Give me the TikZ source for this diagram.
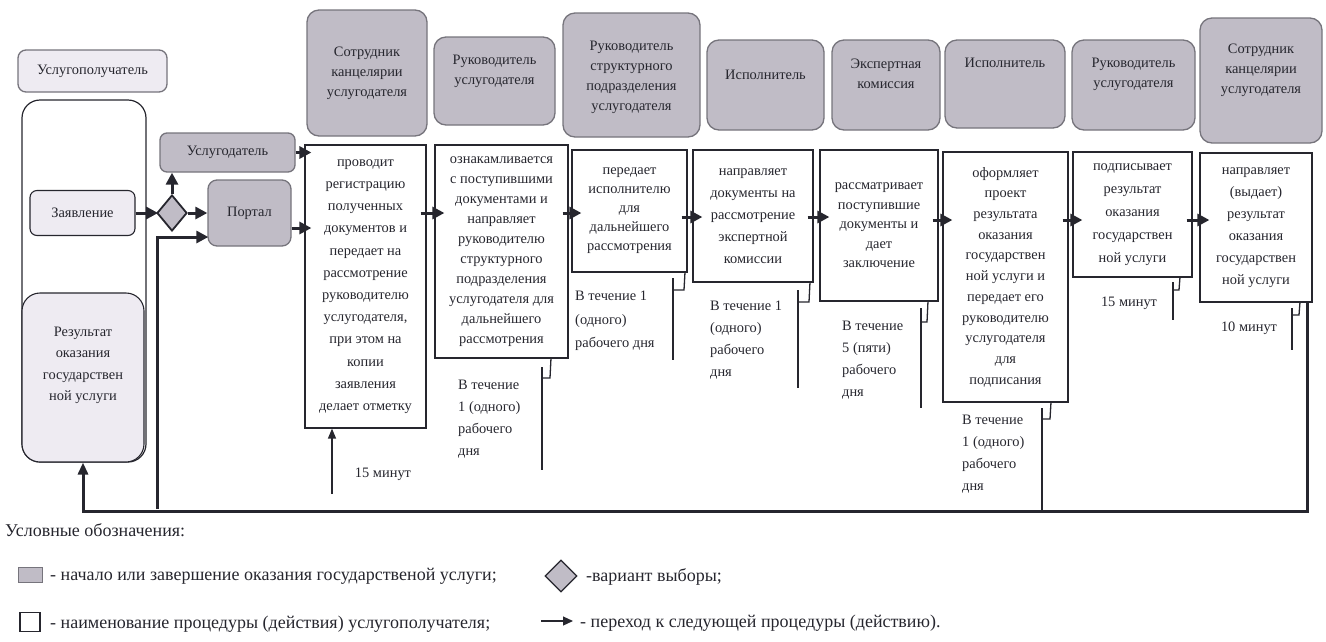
\documentclass[tikz,border=0pt]{standalone}
\usepackage{fontspec}
\setmainfont{Liberation Serif}
\usetikzlibrary{shapes.geometric,arrows.meta,calc}
\definecolor{hdrfill}{RGB}{192,188,198}
\definecolor{hdrdraw}{RGB}{118,116,124}
\definecolor{lightfill}{RGB}{238,235,242}
\definecolor{ink}{RGB}{38,38,46}
\begin{document}
\begin{tikzpicture}[x=1pt,y=-1pt,
  hdr/.style={draw=hdrdraw,line width=1.3pt,fill=hdrfill,rounded corners=12pt,inner sep=0pt},
  htxt/.style={font=\fontsize{14.4}{20}\selectfont,align=center,text=ink,inner sep=0pt},
  lightbox/.style={draw=ink,line width=1.1pt,fill=lightfill,rounded corners=7pt,inner sep=0pt,font=\fontsize{14.4}{21}\selectfont,align=center,text=ink},
  graybox/.style={draw=hdrdraw,line width=1.3pt,fill=hdrfill,rounded corners=7pt,inner sep=0pt,font=\fontsize{14.4}{21}\selectfont,align=center,text=ink},
  proc/.style={draw=ink,line width=1.2pt,fill=white,inner sep=0pt,align=center,text=ink},
  timetxt/.style={font=\fontsize{14.4}{22}\selectfont,align=left,text=ink,inner sep=0pt,anchor=north west},
  arr/.style={draw=ink,line width=3pt,-{Triangle[length=12pt,width=12pt]}},
  tarr/.style={draw=ink,line width=1.4pt,-{Triangle[length=10pt,width=8pt]}},
  cl/.style={draw=ink,line width=1.3pt},
  ret/.style={draw=ink,line width=3pt},
  leg/.style={font=\fontsize{18}{20}\selectfont,anchor=west,inner sep=0pt,text=ink}
]
\useasboundingbox (0,0) rectangle (1326,641);

% ---------- headers ----------
\node[hdr,fill=lightfill,rounded corners=8pt,minimum width=149pt,minimum height=42pt,
  label={[htxt]center:{Услугополучатель}}] (h0) at (92.5,71) {};
\node[hdr,minimum width=120pt,minimum height=126pt,
  label={[htxt]center:{Сотрудник\\канцелярии\\услугодателя}}] (h1) at (367,73) {};
\node[hdr,minimum width=121pt,minimum height=88pt,
  label={[htxt,yshift=10pt]center:{Руководитель\\услугодателя}}] (h2) at (494.5,81) {};
\node[hdr,minimum width=137pt,minimum height=124pt,
  label={[htxt,yshift=-2pt]center:{Руководитель\\структурного\\подразделения\\услугодателя}}] (h3) at (631.5,75) {};
\node[hdr,minimum width=117pt,minimum height=90pt,
  label={[htxt,yshift=10pt]center:{Исполнитель}}] (h4) at (765.5,85) {};
\node[hdr,minimum width=108pt,minimum height=90pt,
  label={[htxt,yshift=11pt]center:{Экспертная\\комиссия}}] (h5) at (886,85) {};
\node[hdr,minimum width=120pt,minimum height=88pt,
  label={[htxt,yshift=21pt]center:{Исполнитель}}] (h6) at (1005,84) {};
\node[hdr,minimum width=123pt,minimum height=90pt,
  label={[htxt,yshift=11pt]center:{Руководитель\\услугодателя}}] (h7) at (1133.5,85) {};
\node[hdr,minimum width=122pt,minimum height=125pt,
  label={[htxt,yshift=10pt]center:{Сотрудник\\канцелярии\\услугодателя}}] (h8) at (1261,80.5) {};

% ---------- left column ----------
\node[draw=ink,line width=1.2pt,rounded corners=18pt,minimum width=124pt,minimum height=362pt,inner sep=0pt] (L) at (84,281) {};
\node[lightbox,minimum width=105pt,minimum height=45pt] (Z) at (82.5,213) {Заявление};
\node[lightbox,rounded corners=18pt,minimum width=122pt,minimum height=169pt,
  label={[htxt,font=\fontsize{14.4}{21.5}\selectfont,yshift=12pt]center:{Результат\\оказания\\государствен\\ной услуги}}] (R) at (83,377.5) {};

\node[shape=diamond,draw=ink,line width=1.8pt,fill=hdrfill,minimum width=30pt,minimum height=36pt,inner sep=0pt] (D) at (172,213) {};
\node[graybox,minimum width=135pt,minimum height=39pt] (U) at (227.5,152.5) {Услугодатель};
\node[graybox,rounded corners=9pt,minimum width=83pt,minimum height=66pt] (P) at (249.5,213) {Портал};

% ---------- process boxes ----------
\node[proc,font=\fontsize{14.4}{22.2}\selectfont,minimum width=121pt,minimum height=283pt] (p1) at (365.5,286.5)
  {проводит\\регистрацию\\полученных\\документов и\\передает на\\рассмотрение\\руководителю\\услугодателя,\\при этом на\\копии\\заявления\\делает отметку};
\node[proc,font=\fontsize{14.4}{20}\selectfont,minimum width=133pt,minimum height=213pt] (p2) at (501.5,251.5)
  {ознакамливается\\с поступившими\\документами и\\направляет\\руководителю\\структурного\\подразделения\\услугодателя для\\дальнейшего\\рассмотрения};
\node[proc,font=\fontsize{14.4}{19}\selectfont,minimum width=115pt,minimum height=122pt] (p3) at (629.5,211)
  {передает\\исполнителю\\для\\дальнейшего\\рассмотрения};
\node[proc,font=\fontsize{14.4}{22}\selectfont,minimum width=120pt,minimum height=132pt] (p4) at (753,216)
  {направляет\\документы на\\рассмотрение\\экспертной\\комиссии};
\node[proc,font=\fontsize{14.4}{19.5}\selectfont,minimum width=118pt,minimum height=151pt] (p5) at (879,225.5)
  {рассматривает\\поступившие\\документы и\\дает\\заключение};
\node[proc,font=\fontsize{14.4}{20.7}\selectfont,minimum width=125pt,minimum height=250pt] (p6) at (1005.5,277)
  {оформляет\\проект\\результата\\оказания\\государствен\\ной услуги и\\передает его\\руководителю\\услугодателя\\для\\подписания};
\node[proc,font=\fontsize{14.4}{23}\selectfont,minimum width=119pt,minimum height=125pt] (p7) at (1132.5,214.5)
  {подписывает\\результат\\оказания\\государствен\\ной услуги};
\node[proc,font=\fontsize{14.4}{22}\selectfont,minimum width=112pt,minimum height=149pt] (p8) at (1256,227.5)
  {направляет\\(выдает)\\результат\\оказания\\государствен\\ной услуги};

% ---------- helper coordinates ----------
\coordinate (ya) at (0,213);
\coordinate (yb) at (0,217);
\coordinate (yc) at (0,220);
\coordinate (yp) at (0,228);
\coordinate (yq) at (0,237);
\coordinate (bot) at (1307,511);
\coordinate (lin) at (157,509);

% ---------- connectors ----------
\draw[arr,shorten >=-2pt] (Z.east) -- (D.west);
\draw[arr] (D.north) -- (D.north |- U.south);
\draw[arr] (D.east) -- (P.west |- D.east);
\draw[arr,shorten >=-1pt] (lin) |- (P.west |- yq);
\draw[arr,shorten >=-7pt] (U.east) -- (p1.west |- U.east);
\draw[arr,shorten >=-7pt] (P.east |- yp) -- (p1.west |- yp);

\draw[arr,shorten <=-6pt,shorten >=-10pt] (p1.east |- ya) -- (p2.west |- ya);
\draw[arr,shorten <=-6pt,shorten >=-10pt] (p2.east |- ya) -- (p3.west |- ya);
\draw[arr,shorten <=-6pt,shorten >=-10pt] (p3.east |- yb) -- (p4.west |- yb);
\draw[arr,shorten <=-6pt,shorten >=-10pt] (p4.east |- yb) -- (p5.west |- yb);
\draw[arr,shorten <=-6pt,shorten >=-10pt] (p5.east |- yc) -- (p6.west |- yc);
\draw[arr,shorten <=-6pt,shorten >=-10pt] (p6.east |- yc) -- (p7.west |- yc);
\draw[arr,shorten <=-6pt,shorten >=-10pt] (p7.east |- yc) -- (p8.west |- yc);

% return line
\draw[ret,-{Triangle[length=12pt,width=10pt]}] (p8.south east -| bot) -- (bot) -| (R.south);

% ---------- time labels and callouts ----------
\coordinate (t1) at (332,494);
\draw[tarr] (t1) -- (t1 |- p1.south);
\node[text=ink,inner sep=0pt,font=\fontsize{14.4}{22}\selectfont] (l1) at (383,474) {15 минут};

\draw[cl] (551,358) -- (550,378) -- (542,378);
\draw[cl] (542,367) -- (542,470);
\node[timetxt] (l2) at (458,380) {В течение\\1 (одного)\\рабочего\\дня};

\draw[cl] (685,272) -- (684,290) -- (673,290);
\draw[cl] (673,278) -- (673,360);
\node[timetxt,font=\fontsize{14.4}{23.5}\selectfont] (l3) at (575,291) {В течение 1\\(одного)\\рабочего дня};

\draw[cl] (810,282) -- (809,302) -- (798,302);
\draw[cl] (798,290) -- (798,388);
\node[timetxt] (l4) at (710,301) {В течение 1\\(одного)\\рабочего\\дня};

\draw[cl] (928,301) -- (927,322) -- (921,322);
\draw[cl] (921,308) -- (921,408);
\node[timetxt] (l5) at (842,321) {В течение\\5 (пяти)\\рабочего\\дня};

\draw[cl] (1051,402) -- (1050,419) -- (1042,419);
\draw[cl] (1042,408) -- (1042,511);
\node[timetxt] (l6) at (962,415) {В течение\\1 (одного)\\рабочего\\дня};

\draw[cl] (1180,277) -- (1179,290) -- (1173,290);
\draw[cl] (1173,282) -- (1173,320);
\node[text=ink,inner sep=0pt,font=\fontsize{14.4}{22}\selectfont] (l7) at (1129,303) {15 минут};

\draw[cl] (1300,302) -- (1299,315) -- (1292,315);
\draw[cl] (1292,308) -- (1292,350);
\node[text=ink,inner sep=0pt,font=\fontsize{14.4}{22}\selectfont] (l8) at (1249,328) {10 минут};

% ---------- legend ----------
\node[leg] (lt) at (5,530) {Условные обозначения:};
\node[draw=hdrdraw,fill=hdrfill,line width=0.6pt,minimum width=24pt,minimum height=15pt,inner sep=0pt] (g1) at (30,575) {};
\node[leg] (t1l) at (50,576) {- начало или завершение оказания государственой услуги;};
\node[draw=ink,fill=white,line width=1.2pt,minimum width=20pt,minimum height=19pt,inner sep=0pt] (g2) at (30,622) {};
\node[leg] (t2l) at (50,624) {- наименование процедуры (действия) услугополучателя;};
\node[shape=diamond,draw=ink,line width=1.3pt,fill=hdrfill,minimum width=32pt,minimum height=32pt,inner sep=0pt] (g3) at (561,576) {};
\node[leg] (t3l) at (586,577) {-вариант выборы;};
\coordinate (la1) at (541,621);
\coordinate (la2) at (573,621);
\draw[draw=ink,line width=1.2pt,-{Triangle[length=10pt,width=9pt]}] (la1) -- (la2);
\node[leg] (t4l) at (580,623) {- переход к следующей процедуры (действию).};
\end{tikzpicture}
\end{document}
